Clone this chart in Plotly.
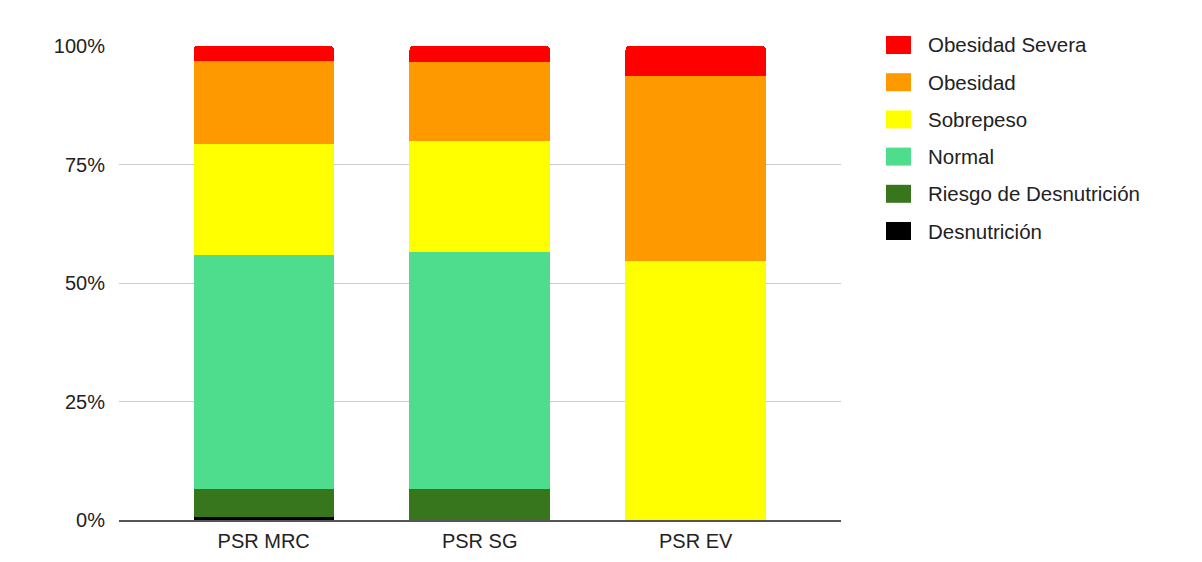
import plotly.graph_objects as go

# Nutritional status distribution (%) per group
categories = ["PSR MRC", "PSR SG", "PSR EV"]

series_names = ["Desnutrición", "Riesgo de Desnutrición", "Normal",
                "Sobrepeso", "Obesidad", "Obesidad Severa"]
series_colors = ["#000000", "#38761d", "#4edd8c", "#ffff00", "#ff9900", "#ff0000"]

desnutricion = [0.7, 0.0, 0.0]
riesgo_desnutricion = [5.9, 6.6, 0.0]
normal = [49.3, 49.9, 0.0]
sobrepeso = [23.4, 23.5, 54.6]
obesidad = [17.6, 16.6, 39.1]
obesidad_severa = [3.1, 3.4, 6.3]

series_values = [desnutricion, riesgo_desnutricion, normal,
                 sobrepeso, obesidad, obesidad_severa]

y_ticks = [0, 25, 50, 75, 100]
y_tick_labels = ["0%", "25%", "50%", "75%", "100%"]

FONT = "Liberation Sans, Arial, sans-serif"
TEXT_COLOR = "#222222"

fig = go.Figure()
for name, color, vals in zip(series_names, series_colors, series_values):
    fig.add_trace(go.Bar(
        x=categories, y=vals, name=name,
        marker=dict(color=color, line=dict(width=0)),
        showlegend=False,
    ))

# Plot area geometry (pixels) used to place the custom legend
W, H = 1202, 562
ML, MR, MT, MB = 119, 361, 46, 42
plot_w = W - ML - MR
plot_h = H - MT - MB

def px_x(px):
    return (px - ML) / plot_w

def px_y(py):
    return (H - MB - py) / plot_h

# Legend: top entry is the last stacked series
shapes = []
annotations = []
row_top = 45
row_step = 37.2
for i, (name, color) in enumerate(zip(reversed(series_names), reversed(series_colors))):
    cy = row_top + i * row_step
    shapes.append(dict(
        type="rect", xref="paper", yref="paper",
        x0=px_x(886), x1=px_x(911), y0=px_y(cy + 9), y1=px_y(cy - 9),
        fillcolor=color, line=dict(width=0),
    ))
    annotations.append(dict(
        xref="paper", yref="paper", x=px_x(926), y=px_y(cy),
        text=name, showarrow=False, xanchor="left", yanchor="middle",
        font=dict(family=FONT, size=20.5, color=TEXT_COLOR),
    ))

fig.update_layout(
    width=W, height=H,
    margin=dict(l=ML, r=MR, t=MT, b=MB, pad=0, autoexpand=False),
    paper_bgcolor="white", plot_bgcolor="white",
    barmode="stack", bargap=0.35,
    barcornerradius=4,
    showlegend=False,
    shapes=shapes, annotations=annotations,
    font=dict(family=FONT, size=19, color=TEXT_COLOR),
)
fig.update_xaxes(
    range=[-0.67, 2.673], showgrid=False, automargin=False,
    showline=True, linecolor="#555555", linewidth=1.5,
    ticks="", ticklabelstandoff=2,
    tickfont=dict(family=FONT, size=20, color=TEXT_COLOR),
    fixedrange=True,
)
fig.update_yaxes(
    range=[0, 100], tickvals=y_ticks, ticktext=y_tick_labels,
    automargin=False,
    showgrid=True, gridcolor="#cccccc", gridwidth=1,
    zeroline=False, showline=False, ticks="", ticklabelstandoff=13,
    tickfont=dict(family=FONT, size=20, color=TEXT_COLOR),
    fixedrange=True,
)

fig.write_html("out.html")
